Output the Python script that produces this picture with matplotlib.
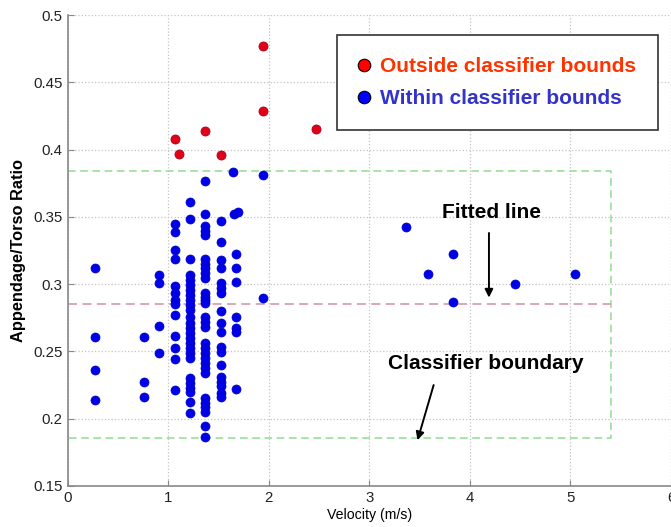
import matplotlib
matplotlib.use('Agg')
import matplotlib.pyplot as plt
from matplotlib.lines import Line2D

plt.rcParams['font.family'] = ['Liberation Sans', 'DejaVu Sans']

# 分类器边界之外的点
out_v = [1.94, 1.94, 1.07, 1.11, 1.37, 1.53, 2.47]
out_r = [0.477, 0.429, 0.408, 0.397, 0.414, 0.396, 0.415]

# 分类器边界之内的点（按速度列分组）
in_v = ([0.27] * 4 + [0.76] * 3 + [0.91] * 4 + [1.07] * 13 + [1.22] * 26
        + [1.37] * 30 + [1.53] * 18
        + [1.65, 1.66, 1.70, 1.68, 1.68, 1.68, 1.68, 1.68, 1.68, 1.68]
        + [1.94, 1.94]
        + [3.37, 3.83, 3.58, 4.45, 5.05, 3.83])
in_r = ([0.312, 0.261, 0.236, 0.214]
        + [0.261, 0.227, 0.216]
        + [0.3066, 0.3007, 0.269, 0.249]
        + [0.3447, 0.3386, 0.3254, 0.3185, 0.2987, 0.2937, 0.2883, 0.2853,
           0.2771, 0.2615, 0.2528, 0.2442, 0.2214]
        + [0.3613, 0.3487, 0.319, 0.3068, 0.303, 0.2994, 0.2957, 0.292,
           0.288, 0.2845, 0.2805, 0.2759, 0.2709, 0.2672, 0.2635, 0.2598,
           0.2565, 0.2524, 0.2487, 0.245, 0.2301, 0.2264, 0.2227, 0.2202,
           0.2127, 0.2045]
        + [0.3767, 0.3522, 0.3432, 0.3397, 0.3363, 0.319, 0.315, 0.3118,
           0.3081, 0.3044, 0.2932, 0.2907, 0.2883, 0.2858, 0.2759, 0.2722,
           0.2684, 0.2561, 0.2524, 0.2487, 0.245, 0.2413, 0.2375, 0.2338,
           0.2152, 0.212, 0.209, 0.2053, 0.1947, 0.1863]
        + [0.347, 0.3316, 0.318, 0.3118, 0.3007, 0.297, 0.2932, 0.2803,
           0.2714, 0.2647, 0.2536, 0.2499, 0.24, 0.2308, 0.2276, 0.2244,
           0.219, 0.216]
        + [0.3836, 0.3522, 0.3539, 0.3222, 0.3118, 0.3019, 0.2759, 0.2672,
           0.2647, 0.2219]
        + [0.381, 0.290]
        + [0.3425, 0.3227, 0.3073, 0.300, 0.3073, 0.287])

# 拟合线与分类器边界
fit_r = 0.285
bound_lo = 0.1855
bound_hi = 0.384
bound_v_max = 5.40

x_ticks = [0, 1, 2, 3, 4, 5, 6]
y_ticks = [0.15, 0.2, 0.25, 0.3, 0.35, 0.4, 0.45, 0.5]
y_tick_labels = ['0.15', '0.2', '0.25', '0.3', '0.35', '0.4', '0.45', '0.5']

fig = plt.figure(figsize=(6.71, 5.27), dpi=100)
ax = fig.add_axes([0.1006, 0.0778, 0.8994, 0.8937])

ax.set_xlim(0, 6)
ax.set_ylim(0.15, 0.5)
ax.set_xticks(x_ticks)
ax.set_yticks(y_ticks)
ax.set_yticklabels(y_tick_labels)
ax.grid(True, linestyle=':', color='#c4c4c4', linewidth=0.9)
ax.set_axisbelow(True)
ax.tick_params(direction='in', length=4, color='#888888', labelsize=10.8,
               labelcolor='#222222')
for s in ['top', 'right']:
    ax.spines[s].set_visible(False)
for s in ['left', 'bottom']:
    ax.spines[s].set_color('#888888')
    ax.spines[s].set_linewidth(1.2)

# 分类器边界（绿色虚线框）
ax.plot([0, bound_v_max, bound_v_max, 0], [bound_hi, bound_hi, bound_lo, bound_lo],
        color='#8fdc8f', linestyle=(0, (5, 3)), linewidth=1.1, clip_on=False)
# 拟合线
ax.plot([0, bound_v_max], [fit_r, fit_r], color='#d7a3ae',
        linestyle=(0, (5, 3)), linewidth=1.3)

ax.plot(in_v, in_r, 'o', color='#0000e6', markersize=6.5, markeredgewidth=0.5,
        markeredgecolor='#0000c8', zorder=3)
ax.plot(out_v, out_r, 'o', color='#e0001a', markersize=6.5, markeredgewidth=0.6,
        markeredgecolor='#b00018', zorder=3)

ax.set_xlabel('Velocity (m/s)', fontsize=10.2, labelpad=2)
ax.set_ylabel('Appendage/Torso Ratio', fontsize=11.8, fontweight='bold', labelpad=5)

ax.text(4.22, 0.353, 'Fitted line', fontsize=15, fontweight='bold',
        ha='center', va='center')
ax.annotate('', xy=(4.19, 0.290), xytext=(4.19, 0.338),
            arrowprops=dict(arrowstyle='-|>', color='black', lw=1.4,
                            mutation_scale=12, shrinkA=0, shrinkB=0))
ax.text(4.16, 0.241, 'Classifier boundary', fontsize=15, fontweight='bold',
        ha='center', va='center')
ax.annotate('', xy=(3.48, 0.184), xytext=(3.64, 0.225),
            arrowprops=dict(arrowstyle='-|>', color='black', lw=1.4,
                            mutation_scale=12, shrinkA=0, shrinkB=0))

handles = [
    Line2D([], [], marker='o', linestyle='none', markersize=9,
           markerfacecolor='#ff0000', markeredgecolor='black', markeredgewidth=0.8),
    Line2D([], [], marker='o', linestyle='none', markersize=9,
           markerfacecolor='#0000ff', markeredgecolor='black', markeredgewidth=0.8),
]
leg = ax.legend(handles, ['Outside classifier bounds', 'Within classifier bounds'],
                loc='upper left', bbox_to_anchor=(0.4466, 0.9575),
                borderaxespad=0, borderpad=1.05, handlelength=0.5,
                handletextpad=0.5, labelspacing=0.65, fancybox=False,
                framealpha=1, edgecolor='#333333',
                prop={'size': 15, 'weight': 'bold'})
leg.get_frame().set_linewidth(1.2)
leg.get_texts()[0].set_color('#ff3300')
leg.get_texts()[1].set_color('#3333cc')

fig.savefig('out.png', dpi=100)
